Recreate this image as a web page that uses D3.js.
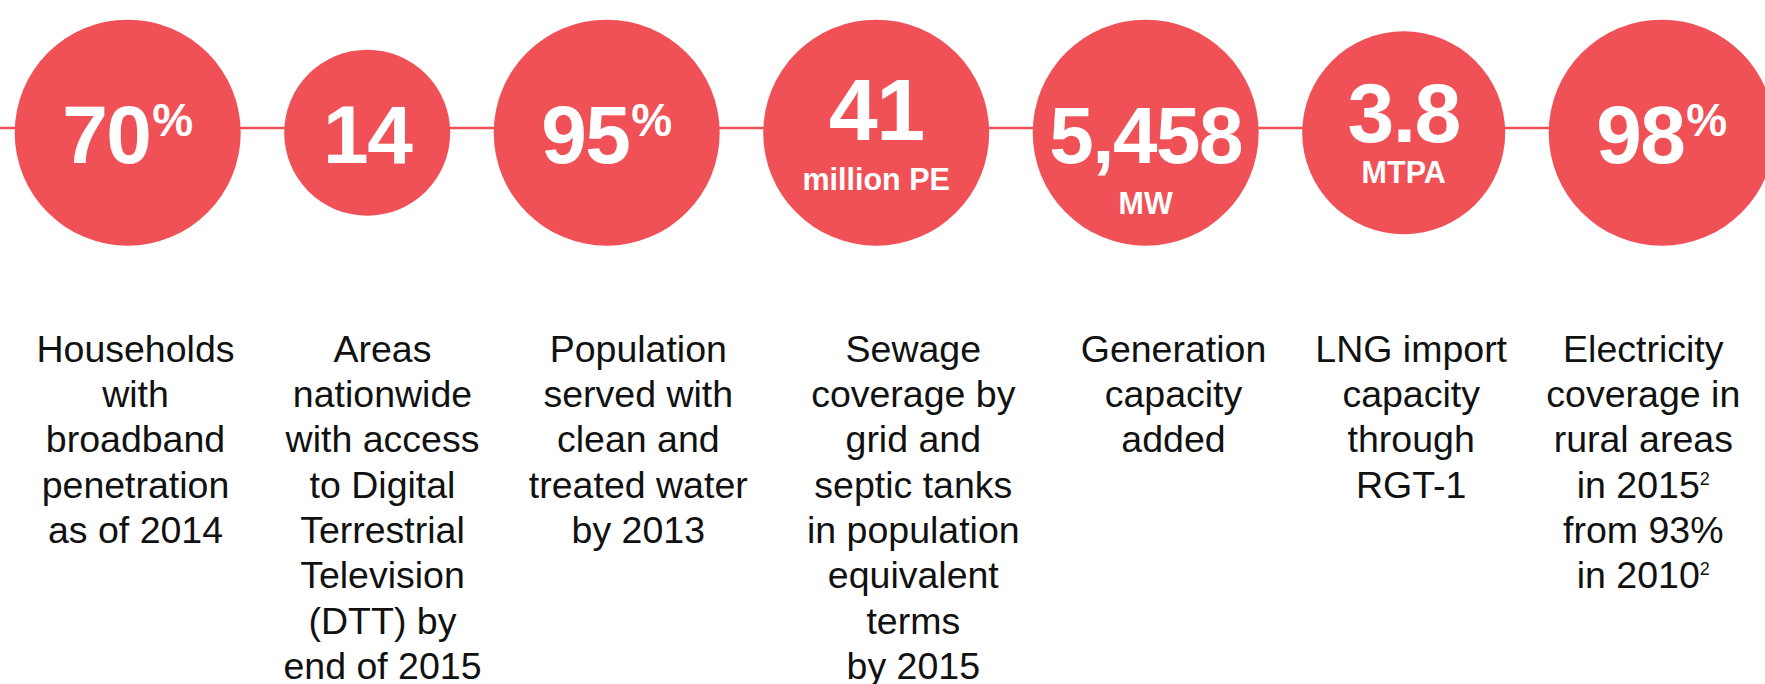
<!DOCTYPE html>
<html>
<head>
<meta charset="utf-8">
<script src="https://cdn.jsdelivr.net/npm/d3@7"></script>
<style>
  html, body { margin: 0; padding: 0; background: #fff; }
  svg { display: block; }
</style>
</head>
<body>
<div id="chart"></div>
<script>
// Infrastructure highlights - row of red discs joined by a thin rule, captions underneath.

// ---- data ----
const values = ["70", "14", "95", "41", "5,458", "3.8", "98"];
const suffixes = ["%", "", "%", "", "", "", "%"];
const units = ["", "", "", "million PE", "MW", "MTPA", ""];
const captions = [
    ["Households", "with", "broadband", "penetration", "as of 2014"],
    ["Areas", "nationwide", "with access", "to Digital", "Terrestrial", "Television", "(DTT) by", "end of 2015"],
    ["Population", "served with", "clean and", "treated water", "by 2013"],
    ["Sewage", "coverage by", "grid and", "septic tanks", "in population", "equivalent", "terms", "by 2015"],
    ["Generation", "capacity", "added"],
    ["LNG import", "capacity", "through", "RGT-1"],
    ["Electricity", "coverage in", "rural areas", "in 2015²", "from 93%", "in 2010²"]
];

// ---- layout (sizes / offsets, not data) ----
const width = 1765, height = 684;
const red = "#f05157";
const radii = [113, 83, 113, 113, 113, 101.5, 113];
const gap = 43.5;
const firstLeft = 14.7;
const cy = 132.7;
const ruleY = 128;
const valueSize = [82, 82, 82, 88, 80, 84, 82];
const valueBase = [163.3, 163.3, 163.3, 140, 163.3, 141.7, 163.3];
const unitBase = [0, 0, 0, 190, 214, 183.3, 0];
const captionX = [135.5, 382.5, 638.3, 913.3, 1173.5, 1411.2, 1643.3];
const captionTop = 361.7;
const lineHeight = 45.3;

const items = values.map((v, i) => ({
    i, value: v, suffix: suffixes[i], unit: units[i], lines: captions[i]
}));

// pack discs left to right with a constant gap
const centers = [];
radii.reduce((left, r) => { centers.push(left + r); return left + 2 * r + gap; }, firstLeft);

const x = d3.scaleOrdinal().domain(d3.range(items.length)).range(centers);
const r = d3.scaleOrdinal().domain(d3.range(items.length)).range(radii);
const capX = d3.scaleOrdinal().domain(d3.range(items.length)).range(captionX);

const svg = d3.select("#chart")
    .append("svg")
    .attr("width", width)
    .attr("height", height);

svg.append("rect").attr("width", width).attr("height", height).attr("fill", "#fff");

// connecting rule
svg.append("line")
    .attr("x1", 0)
    .attr("x2", x(items.length - 1))
    .attr("y1", ruleY)
    .attr("y2", ruleY)
    .attr("stroke", red)
    .attr("stroke-width", 2.5);

const disc = svg.selectAll("g.disc")
    .data(items)
    .join("g")
    .attr("class", "disc");

disc.append("circle")
    .attr("cx", d => x(d.i))
    .attr("cy", cy)
    .attr("r", d => r(d.i))
    .attr("fill", red);

const font = "'Helvetica Neue', Helvetica, 'Liberation Sans', Arial, sans-serif";

const valText = disc.append("text")
    .attr("x", d => x(d.i))
    .attr("y", d => valueBase[d.i])
    .attr("text-anchor", "middle")
    .attr("fill", "#fff")
    .attr("font-family", font)
    .attr("font-weight", "bold");

valText.append("tspan")
    .attr("font-size", d => valueSize[d.i])
    .attr("letter-spacing", -1.5)
    .text(d => d.value);

valText.filter(d => d.suffix)
    .append("tspan")
    .attr("font-size", 46)
    .attr("dx", 2)
    .attr("dy", -27)
    .text(d => d.suffix);

disc.filter(d => d.unit)
    .append("text")
    .attr("x", d => x(d.i))
    .attr("y", d => unitBase[d.i])
    .attr("text-anchor", "middle")
    .attr("fill", "#fff")
    .attr("font-family", font)
    .attr("font-weight", "bold")
    .attr("font-size", 30.5)
    .text(d => d.unit);

// captions
const cap = svg.selectAll("text.caption")
    .data(items)
    .join("text")
    .attr("class", "caption")
    .attr("text-anchor", "middle")
    .attr("fill", "#111")
    .attr("font-family", font)
    .attr("font-size", 37.5);

cap.each(function (d) {
    const t = d3.select(this);
    d.lines.forEach((line, k) => {
        const y = captionTop + k * lineHeight;
        const parts = line.split("²");
        const row = t.append("tspan").attr("x", capX(d.i)).attr("y", y);
        row.append("tspan").text(parts[0]);
        if (parts.length > 1) {
            row.append("tspan")
                .attr("font-size", 18)
                .attr("dy", -13)
                .text("2");
        }
    });
});
</script>
</body>
</html>
